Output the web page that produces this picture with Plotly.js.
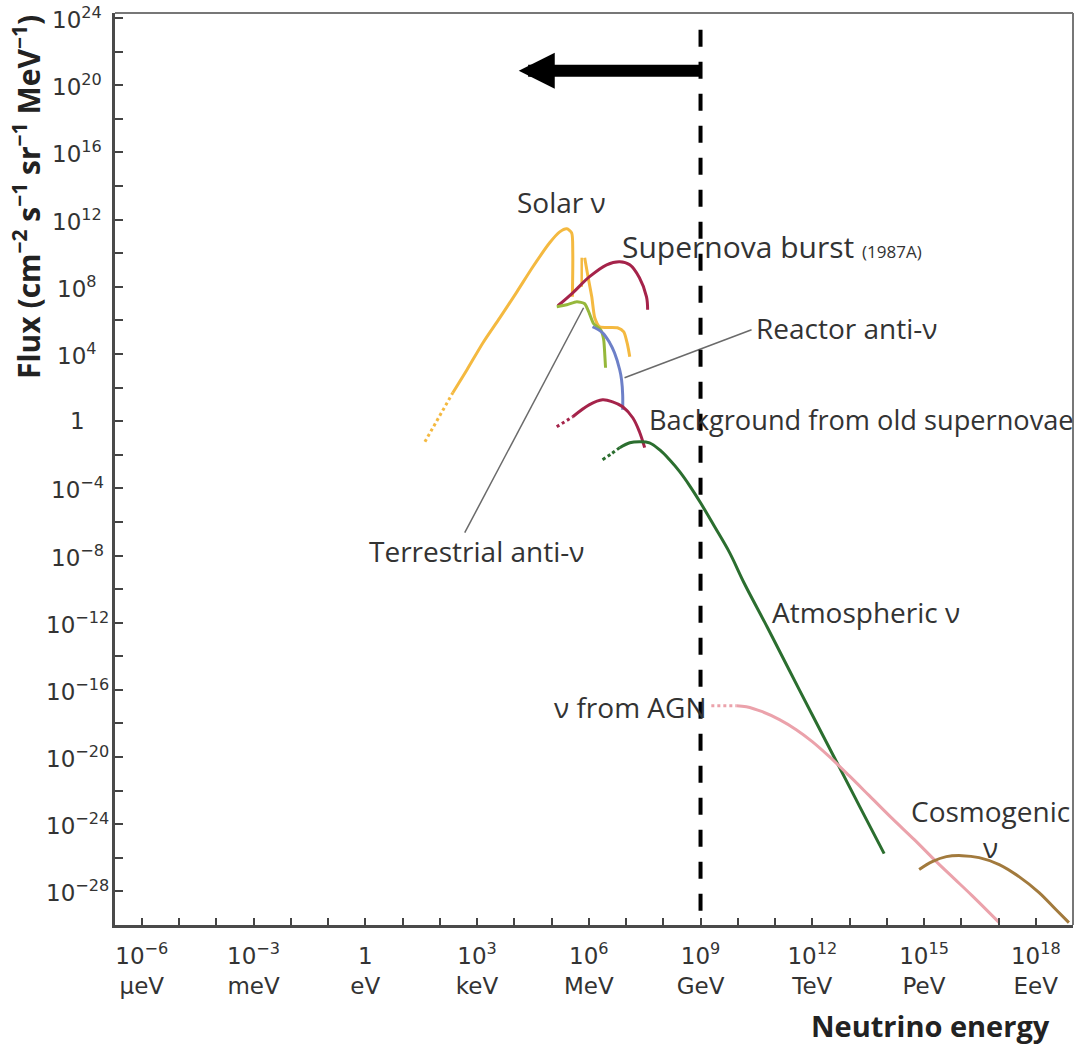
<!DOCTYPE html>
<html><head><meta charset="utf-8">
<script src="https://cdn.plot.ly/plotly-3.0.1.min.js"></script>
<style>html,body{margin:0;padding:0;background:#fff}#chart{width:1078px;height:1047px}</style>
</head><body><div id="chart"></div>
<script>
// ---- data: log10(energy / eV) and log10(flux) ----
const solarDotLogE = [1.60, 2.35];
const solarDotLogF = [-1.23, 1.69];
const solarPpLogE = [2.35, 2.73, 3.16, 3.61, 4.07, 4.50, 4.95, 5.22, 5.41, 5.54, 5.57, 5.56];
const solarPpLogF = [1.69, 3.06, 4.67, 6.15, 7.70, 9.19, 10.62, 11.27, 11.45, 11.21, 10.02, 7.40];
const solarLineLogE = [5.81, 5.81];
const solarLineLogF = [9.73, 8.00];
const solarB8LogE = [5.89, 5.97, 6.08, 6.16, 6.29, 6.77, 6.94, 7.04, 7.10];
const solarB8LogF = [9.73, 8.71, 7.40, 6.15, 5.62, 5.56, 5.32, 4.55, 3.83];

const snBurstLogE = [5.17, 5.57, 6.02, 6.48, 6.83, 7.10, 7.36, 7.55, 7.58];
const snBurstLogF = [6.87, 7.64, 8.60, 9.31, 9.49, 9.31, 8.54, 7.40, 6.63];

const terrLogE = [5.14, 5.41, 5.68, 5.89, 6.02, 6.13, 6.32, 6.40, 6.43, 6.45];
const terrLogF = [6.81, 6.93, 7.11, 6.99, 6.39, 5.80, 5.44, 4.85, 3.95, 3.18];

const reactorLogE = [6.10, 6.37, 6.56, 6.69, 6.83, 6.88, 6.91, 6.91];
const reactorLogF = [5.62, 5.26, 4.67, 4.07, 3.06, 2.46, 1.57, 0.68];

const oldSnDotLogE = [5.14, 5.57];
const oldSnDotLogF = [-0.33, 0.26];
const oldSnLogE = [5.57, 6.02, 6.37, 6.64, 6.91, 7.18, 7.36, 7.50];
const oldSnLogF = [0.26, 0.98, 1.27, 1.15, 0.86, 0.20, -0.63, -1.58];

const atmoDotLogE = [6.37, 6.61, 6.83];
const atmoDotLogF = [-2.30, -1.94, -1.58];
const atmoLogE = [6.83, 7.10, 7.36, 7.63, 7.90, 8.17, 8.44, 8.71, 9.00, 9.38, 9.78, 10.18, 10.80, 11.65, 12.54, 13.26, 13.93];
const atmoLogF = [-1.58, -1.29, -1.23, -1.29, -1.70, -2.30, -3.01, -3.85, -4.86, -6.29, -7.83, -9.68, -12.30, -15.99, -19.80, -22.89, -25.75];

const agnDotLogE = [9.29, 9.97];
const agnDotLogF = [-16.94, -16.94];
const agnLogE = [9.97, 10.23, 10.66, 11.12, 11.57, 12.00, 12.46, 12.99, 13.53, 14.15, 14.74, 15.33, 15.81, 16.29, 17.02];
const agnLogF = [-16.94, -17.00, -17.30, -17.77, -18.37, -19.08, -19.98, -21.11, -22.30, -23.67, -24.92, -26.23, -27.24, -28.25, -29.86];

const cosmoLogE = [14.87, 15.22, 15.60, 16.02, 16.48, 17.02, 17.55, 18.09, 18.54, 18.89];
const cosmoLogF = [-26.70, -26.23, -25.93, -25.87, -25.99, -26.40, -27.12, -28.07, -29.08, -29.86];

const terrLeaderLogE = [5.86, 2.67];
const terrLeaderLogF = [6.75, -6.64];
const reactorLeaderLogE = [6.96, 10.37];
const reactorLeaderLogF = [2.58, 5.44];

const gevLineLogE = [9, 9];
const gevLineLogF = [23.3, -30];

// ---- ticks ----
const xTickExps = [-6,-5,-4,-3,-2,-1,0,1,2,3,4,5,6,7,8,9,10,11,12,13,14,15,16,17,18];
const xLabelExps = [-6, -3, 0, 3, 6, 9, 12, 15, 18];
const xLabelNums = ['10<sup>−6</sup>','10<sup>−3</sup>','1','10<sup>3</sup>','10<sup>6</sup>','10<sup>9</sup>','10<sup>12</sup>','10<sup>15</sup>','10<sup>18</sup>'];
const xLabelUnits = ['μeV','meV','eV','keV','MeV','GeV','TeV','PeV','EeV'];
const yTickExps = [-28,-26,-24,-22,-20,-18,-16,-14,-12,-10,-8,-6,-4,-2,0,2,4,6,8,10,12,14,16,18,20,22,24];
const yLabelExps = [-28,-24,-20,-16,-12,-8,-4,0,4,8,12,16,20,24];
const yLabelTexts = ['10<sup>−28</sup>','10<sup>−24</sup>','10<sup>−20</sup>','10<sup>−16</sup>','10<sup>−12</sup>','10<sup>−8</sup>','10<sup>−4</sup>','1','10<sup>4</sup>','10<sup>8</sup>','10<sup>12</sup>','10<sup>16</sup>','10<sup>20</sup>','10<sup>24</sup>'];

// ---- colours ----
const C = {solar:'#F4B940', sn:'#A5234A', terr:'#96B83B', reactor:'#6D80C8', atmo:'#2B6E2F', agn:'#EBA2AB', cosmo:'#A27A3D', leader:'#6a6a6a'};

const pow = a => a.map(v => Math.pow(10, v));
function tr(xs, ys, color, opts) {
  opts = opts || {};
  return {type:'scatter', mode:'lines', x: pow(xs), y: pow(ys),
    line:{color:color, width: opts.width || 3, dash: opts.dash || 'solid',
          shape: opts.linear ? 'linear' : 'spline', smoothing: opts.smooth || 0.6},
    hoverinfo:'skip', showlegend:false};
}

const traces = [
  tr(terrLeaderLogE, terrLeaderLogF, C.leader, {width:1.5, linear:true}),
  tr(reactorLeaderLogE, reactorLeaderLogF, C.leader, {width:1.5, linear:true}),
  tr(solarDotLogE, solarDotLogF, C.solar, {dash:'dot', linear:true}),
  tr(solarPpLogE, solarPpLogF, C.solar, {smooth:0.7}),
  tr(solarLineLogE, solarLineLogF, C.solar, {width:2.5, linear:true}),
  tr(solarB8LogE, solarB8LogF, C.solar),
  tr(snBurstLogE, snBurstLogF, C.sn, {smooth:1}),
  tr(terrLogE, terrLogF, C.terr),
  tr(reactorLogE, reactorLogF, C.reactor, {smooth:1}),
  tr(oldSnDotLogE, oldSnDotLogF, C.sn, {dash:'dot', linear:true}),
  tr(oldSnLogE, oldSnLogF, C.sn, {smooth:1}),
  tr(atmoDotLogE, atmoDotLogF, C.atmo, {dash:'dot'}),
  tr(atmoLogE, atmoLogF, C.atmo, {smooth:1}),
  tr(agnDotLogE, agnDotLogF, C.agn, {dash:'dot', linear:true}),
  tr(agnLogE, agnLogF, C.agn, {smooth:1}),
  tr(cosmoLogE, cosmoLogF, C.cosmo, {smooth:1}),
  tr(gevLineLogE, gevLineLogF, '#000000', {width:4, dash:'17px,15px', linear:true})
];

const xTickText = xLabelExps.map((e, i) => xLabelNums[i] + '<br>' + xLabelUnits[i]);

const W = 1078, H = 1047, ML = 115, MR = 5, MT = 13, MB = 122;
const PX = x => (x - ML) / (W - ML - MR);
const PY = y => (H - MB - y) / (H - MT - MB);
const FONT = 'Open Sans, Lato, sans-serif';
const TICKFONT = 'DejaVu Sans, Open Sans, sans-serif';
const labelFont = {family: FONT, size: 28, color: '#333'};
function lab(text, x, y, xanchor, extra) {
  return Object.assign({text: text, xref:'paper', yref:'paper', x: PX(x), y: PY(y),
    xanchor: xanchor, yanchor:'middle', showarrow:false, font: labelFont}, extra || {});
}

const annotations = [
  lab('Solar ν', 561, 202, 'center'),
  lab('Supernova burst <span style="font-size:17px">(1987A)</span>', 620, 246, 'left', {font:{family: FONT, size: 30, color:'#333'}}),
  lab('Reactor anti-ν', 754, 328, 'left'),
  lab('Background from old supernovae', 647, 419, 'left', {font:{family: FONT, size: 27.2, color:'#333'}}),
  lab('Terrestrial anti-ν', 367, 551, 'left'),
  lab('Atmospheric ν', 770, 612, 'left'),
  lab('ν from AGN', 708, 707, 'right'),
  lab('Cosmogenic<br>ν', 990, 829, 'center'),
  lab('<b>Neutrino energy</b>', 1051, 1025, 'right', {font:{family: FONT, size: 29, color:'#222'}, borderpad:0}),
  lab('<b>Flux (cm<sup>−2</sup> s<sup>−1</sup> sr<sup>−1</sup> MeV<sup>−1</sup>)</b>', 27, 197, 'center',
      {textangle: -90, font:{family: FONT, size: 30, color:'#222'}}),
  {x: 4.12, y: 20.86, ax: 9.12, ay: 20.86, xref:'x', yref:'y', axref:'x', ayref:'y',
   text:' ', showarrow:true, arrowhead:2, arrowsize:0.6, arrowwidth:12, arrowcolor:'#000'}
].concat(yLabelExps.map((e, i) => ({
  text: yLabelTexts[i], xref:'paper', yref:'y', x: PX(77), y: e,
  xanchor:'center', yanchor:'middle', showarrow:false,
  font:{family: TICKFONT, size: 23, color:'#333'}
})));

const layout = {
  width: W, height: H,
  margin: {l: ML, r: MR, t: MT, b: MB},
  paper_bgcolor:'#fff', plot_bgcolor:'#fff',
  showlegend:false, hovermode:false,
  xaxis: {type:'log', range:[-6.72, 19.0], tickmode:'array', tickvals: pow(xLabelExps), ticktext: xTickText,
    ticks:'inside', ticklen:7, tickwidth:2, tickcolor:'#444',
    minor:{tickmode:'array', tickvals: pow(xTickExps), ticks:'inside', ticklen:7, tickwidth:2, tickcolor:'#444', showgrid:false},
    showline:true, linecolor:'#4a4a4a', linewidth:3, showgrid:false, zeroline:false,
    tickfont:{family: TICKFONT, size: 23, color:'#333'}, ticklabelstandoff: 8, fixedrange:true},
  yaxis: {type:'log', range:[-30, 24.3], tickmode:'array', tickvals: pow(yLabelExps), showticklabels:false,
    ticks:'inside', ticklen:8, tickwidth:2, tickcolor:'#444',
    minor:{tickmode:'array', tickvals: pow(yTickExps), ticks:'inside', ticklen:8, tickwidth:2, tickcolor:'#444', showgrid:false},
    showline:true, linecolor:'#4a4a4a', linewidth:3, showgrid:false, zeroline:false, fixedrange:true},
  shapes: [
    {type:'line', xref:'paper', yref:'paper', x0:0, x1:1, y0:1, y1:1, line:{color:'#777', width:2}},
    {type:'line', xref:'paper', yref:'paper', x0:1, x1:1, y0:0, y1:1, line:{color:'#777', width:2}}
  ],
  annotations: annotations
};

Plotly.newPlot('chart', traces, layout, {displayModeBar:false, staticPlot:true});
</script>
</body></html>
